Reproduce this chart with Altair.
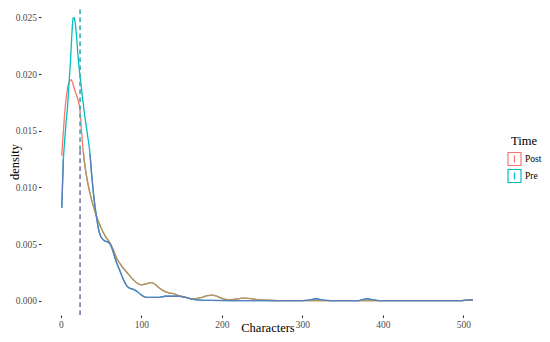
import altair as alt
import pandas as pd

# ---- data ----
series = ["Post", "Pre"]
colors_hi = ["#F8766D", "#00BFC4"]
colors_lo = ["#A29D62", "#5F7BBD"]
mean_chars = [23.7, 23.7]

post_x = [1, 2, 4, 6, 8, 10, 12.5, 15, 17, 20, 23.6, 25.5, 27.7, 30, 33, 36, 40, 44.5,
          50, 55, 61, 65, 69, 75, 82, 88, 94, 100, 106, 111, 116, 121, 127, 134, 141,
          148, 155, 161, 168, 175, 182, 188, 194, 200, 207, 215, 222, 228, 236, 244,
          255, 270, 300, 400, 495, 505, 512]
post_y = [0.0128, 0.0140, 0.0160, 0.0176, 0.0187, 0.0193, 0.0195, 0.0191, 0.0186, 0.0180,
          0.0168, 0.0150, 0.0131, 0.0118, 0.0105, 0.0095, 0.0084, 0.0074, 0.0064, 0.0057,
          0.0051, 0.0045, 0.0038, 0.0031, 0.0025, 0.0020, 0.0016, 0.0014, 0.0015, 0.0016,
          0.0015, 0.0012, 0.0009, 0.0007, 0.0006, 0.0004, 0.0003, 0.0002, 0.0002, 0.0003,
          0.00045, 0.0005, 0.0004, 0.00022, 0.0001, 0.00012, 0.0002, 0.00024, 0.0002,
          0.0001, 0.00005, 0.00002, 0.00001, 0.00001, 0.00002, 0.00005, 0.00008]

pre_x = [1, 2, 3, 4, 6, 8, 10, 12, 13.5, 15, 16, 17.5, 19, 21.6, 25, 29, 33, 36, 38, 40,
         42.5, 44.5, 47, 50, 54, 58, 61, 64, 67, 70, 74, 78, 82, 86, 90, 95, 100, 106,
         112, 120, 130, 140, 148, 155, 162, 172, 185, 220, 260, 300, 310, 317, 324, 335,
         370, 376, 381, 387, 395, 450, 495, 505, 512]
pre_y = [0.0082, 0.0105, 0.0125, 0.0136, 0.0155, 0.0170, 0.0192, 0.0214, 0.0235, 0.0249,
         0.0250, 0.0246, 0.0236, 0.0212, 0.0190, 0.0166, 0.0146, 0.0130, 0.0112, 0.0097,
         0.0082, 0.0072, 0.0062, 0.0056, 0.0053, 0.0052, 0.0050, 0.0045, 0.0038, 0.0032,
         0.0025, 0.0018, 0.0013, 0.0011, 0.0010, 0.0008, 0.0005, 0.0003, 0.0003, 0.0003,
         0.0004, 0.0004, 0.0004, 0.0003, 0.00015, 0.00006, 0.00003, 0.00002, 0.00001,
         0.00001, 0.00008, 0.00018, 0.00008, 0.00001, 0.00002, 0.00012, 0.00018, 0.0001,
         0.00002, 0.00001, 0.00002, 0.00006, 0.00008]

x_ticks = [0, 100, 200, 300, 400, 500]
y_ticks = [0.0, 0.005, 0.010, 0.015, 0.020, 0.025]

X_DOM = [-24.85, 538.1]
Y_DOM = [-0.001253, 0.02583]
T = 0.0133  # level below which the lines look tinted

FONT = "Liberation Serif"

rows = []
for name, xs, ys in [("Post", post_x, post_y), ("Pre", pre_x, pre_y)]:
    run, prev_lo = 0, False
    for xv, yv in zip(xs, ys):
        lo = yv < T
        if lo and not prev_lo:
            run += 1
        rows.append(dict(Time=name, Characters=xv, density=yv, lo=lo, run=f"{name}{run}"))
        prev_lo = lo
df = pd.DataFrame(rows)

rule_rows = []
for name, m in zip(series, mean_chars):
    rule_rows.append(dict(Time=name, m=m, y1=Y_DOM[0], y2=T, seg=name + "_lo"))
    rule_rows.append(dict(Time=name, m=m, y1=T, y2=Y_DOM[1], seg=name + "_hi"))
rdf = pd.DataFrame(rule_rows)

xs = alt.Scale(domain=X_DOM, nice=False, zero=False)
ys = alt.Scale(domain=Y_DOM, nice=False, zero=False)

x_axis = alt.Axis(values=x_ticks, format="d", domain=False, grid=False,
                  tickColor="#333333", tickSize=2.5, tickWidth=1.1,
                  labelColor="#4D4D4D", labelFontSize=9.5, labelFont=FONT, labelPadding=2,
                  title="Characters", titleFont=FONT, titleFontSize=12.5,
                  titleFontWeight="normal", titleColor="black",
                  titleBaseline="alphabetic", titleY=16.5)
y_axis = alt.Axis(values=y_ticks, format=".3f", domain=False, grid=False,
                  tickColor="#333333", tickSize=2.5, tickWidth=1.1,
                  labelColor="#4D4D4D", labelFontSize=9.5, labelFont=FONT, labelPadding=2,
                  title="density", titleFont=FONT, titleFontSize=12.5,
                  titleFontWeight="normal", titleColor="black",
                  titleBaseline="bottom", titleX=-20)

lines = alt.Chart(df).mark_line(strokeWidth=1.3, interpolate="monotone").encode(
    x=alt.X("Characters:Q", scale=xs, axis=x_axis),
    y=alt.Y("density:Q", scale=ys, axis=y_axis),
    color=alt.Color("Time:N", scale=alt.Scale(domain=series, range=colors_hi),
                    legend=alt.Legend(title="Time", orient="none", legendX=466, legendY=127,
                                      symbolType="M-1,-1L1,-1L1,1L-1,1Z M0,-0.55L0,0.55",
                                      symbolSize=169, symbolStrokeWidth=1.2,
                                      labelFont=FONT, labelFontSize=9.5, labelColor="black",
                                      titleFont=FONT, titleFontSize=12.5, titleFontWeight="normal",
                                      titleColor="black", titleAnchor="middle",
                                      labelOffset=3, rowPadding=-4, titlePadding=4)),
    detail="Time:N",
    order="Characters:Q",
)

low = alt.Chart(df).transform_filter("datum.lo").mark_line(
    strokeWidth=1.3, interpolate="monotone").encode(
    x=alt.X("Characters:Q", scale=xs),
    y=alt.Y("density:Q", scale=ys),
    color=alt.Color("Time:N", scale=alt.Scale(domain=series, range=colors_lo), legend=None),
    detail="run:N",
    order="Characters:Q",
)

seg_domain = ["Post_lo", "Post_hi", "Pre_lo", "Pre_hi"]
seg_range = ["#B07A8A", "#F8766D", "#6F7DB5", "#00BFC4"]
rules = alt.Chart(rdf).mark_rule(strokeWidth=1.2, strokeDash=[4.5, 3.5]).encode(
    x=alt.X("m:Q", scale=xs),
    y=alt.Y("y1:Q", scale=ys),
    y2="y2:Q",
    color=alt.Color("seg:N", scale=alt.Scale(domain=seg_domain, range=seg_range), legend=None),
)

chart = alt.layer(lines, low, rules).resolve_scale(color="independent").properties(
    width=453, height=307,
    autosize=alt.AutoSizeParams(type="none"),
    padding={"left": 33, "top": 0, "right": 48, "bottom": 19},
    background="white",
).configure_view(stroke=None).configure_axis(labelFont=FONT, titleFont=FONT).configure_legend(
    labelFont=FONT, titleFont=FONT)

chart.save("out.html", embed_options={"renderer": "svg", "actions": False})
